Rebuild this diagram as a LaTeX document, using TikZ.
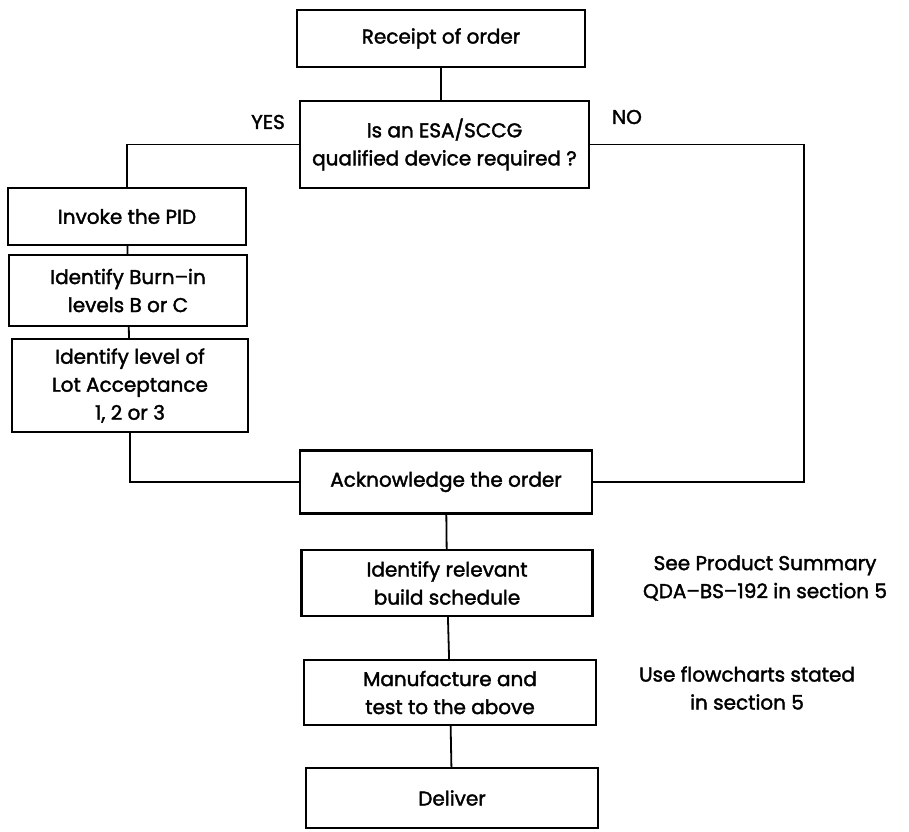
\documentclass[tikz,border=0pt]{standalone}
\usepackage{fontspec}
\setmainfont{Poppins}[FakeBold=1.8]
\usetikzlibrary{positioning}

\begin{document}
\begin{tikzpicture}[x=1pt,y=-1pt,
    box/.style={draw, line width=2.4pt, inner sep=0pt, align=center, font=\fontsize{20}{28}\selectfont},
    note/.style={align=center, font=\fontsize{20}{28}\selectfont},
    link/.style={line width=1.8pt}]
    \useasboundingbox (0,0) rectangle (909,831);

    % main column
    \node[box, minimum width=288, minimum height=57] (receipt) at (441,38.5) {Receipt of order};
    \node[box, minimum width=289, minimum height=87] (query) at (444.5,144.5) {Is an ESA/SCCG\\qualified device required ?};
    \node[note] (yes) at (268,122) {YES};
    \node[note] (no) at (627,117) {NO};

    % yes branch
    \node[box, minimum width=238, minimum height=57] (pid) at (127,216.5) {Invoke the PID};
    \node[box, minimum width=238, minimum height=71] (burnin) at (128,290.5) {Identify Burn--in\\levels B or C};
    \node[box, minimum width=236, minimum height=93] (lot) at (130,385.5) {Identify level of\\Lot Acceptance\\1, 2 or 3};

    \node[box, minimum width=292, minimum height=63] (ack) at (446,482) {Acknowledge the order};
    \node[box, minimum width=291, minimum height=66] (sched) at (447,583) {Identify relevant\\build schedule};
    \node[box, minimum width=292, minimum height=65] (manuf) at (450,692.5) {Manufacture and\\test to the above};
    \node[box, minimum width=292, minimum height=60] (deliver) at (452,798) {Deliver};

    \node[note] (sumnote) at (765,578) {See Product Summary\\QDA--BS--192 in section 5};
    \node[note] (flownote) at (747,688) {Use flowcharts stated\\in section 5};

    \draw[link] (receipt.south) -- (receipt.south |- query.north);
    \draw[link] (query.west) -| (pid.north);
    \draw[link] (query.east) -- ++(214,0) |- (ack.east);
    \draw[link] (pid) -- (burnin);
    \draw[link] (burnin) -- (lot);
    \draw[link] (lot.south) |- (ack.west);
    \draw[link] (ack) -- (sched);
    \draw[link] (sched) -- (manuf);
    \draw[link] (manuf) -- (deliver);

\end{tikzpicture}
\end{document}
